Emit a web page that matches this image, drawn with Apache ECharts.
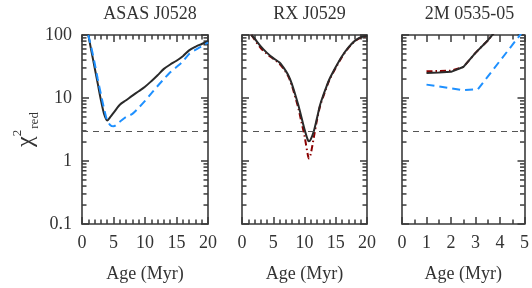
<!DOCTYPE html>
<html><head><meta charset="utf-8">
<script src="https://cdn.jsdelivr.net/npm/echarts@6/dist/echarts.min.js"></script>
<style>html,body{margin:0;padding:0;background:#fff}#c{width:532px;height:288px}</style>
</head><body><div id="c"></div>
<script>
// ---- text ----
const panelTitles = ['ASAS J0528', 'RX J0529', '2M 0535-05'];
const xTitle = 'Age (Myr)';
const yTickLabels = ['0.1', '1', '10', '100'];
const refLevel = 3;
const yMinorTicks = [0.2,0.3,0.4,0.5,0.6,0.7,0.8,0.9,2,3,4,5,6,7,8,9,20,30,40,50,60,70,80,90];

// ---- panel 1: ASAS J0528 ----
const asasAge   = [1, 1.5, 2, 2.5, 3, 3.5, 4, 4.5, 5, 6, 7, 8, 9, 10, 11, 12, 13, 14, 15, 16, 17, 18, 19, 20];
const asasBlack = [100, 55, 30.5, 16.9, 9.3, 5.6, 4.4, 5.0, 5.8, 7.8, 9.2, 10.9, 12.8, 15.1, 18.5, 23, 29, 34, 39, 46, 57, 65, 72, 80];
const asasBlue  = [100, 62, 36, 20, 11.5, 6.8, 4.4, 3.7, 3.55, 4.2, 5.0, 5.6, 7.0, 9.0, 11.8, 15.5, 20, 25.6, 31, 38, 50, 58, 66, 76];

// ---- panel 2: RX J0529 ----
const rxAge   = [1.5, 2, 3, 4, 5, 6, 7, 7.5, 8, 8.5, 9, 9.5, 10, 10.5, 10.7, 11, 11.5, 12, 12.5, 13, 13.5, 14, 15, 16, 17, 18, 19, 20];
const rxBlack = [100, 88, 66, 52, 43, 36.5, 27, 22, 16.5, 11.5, 7.8, 5.0, 3.2, 2.2, 2.05, 2.2, 3.0, 4.8, 7.8, 11, 15, 20, 31, 46, 63, 80, 92, 96];
const rxRed   = [100, 85, 62, 50, 42, 35, 26, 21, 15.5, 10.5, 7.0, 4.2, 2.5, 1.3, 1.1, 1.3, 2.4, 4.5, 7.5, 10.5, 14.5, 19.5, 30, 45, 62, 79, 91, 96];

// ---- panel 3: 2M 0535-05 ----
const tmAge     = [1, 1.5, 2, 2.5, 3, 3.5, 4];
const tmBlack   = [25, 25.3, 26, 31, 52, 82, 140];
const tmRed     = [26.5, 26.8, 27.2, 31, 52, 82, 140];
const tmBlueAge = [1, 2.5, 3.1, 4, 5];
const tmBlue    = [16.3, 13.3, 13.8, 39, 123];

// ---- layout ----
const FONT = 'Liberation Serif';
const frameColor = '#3a3a3a';
const tickColor = '#3a3a3a';
const grids = [
  {left: 82, top: 35, width: 126, height: 194},
  {left: 242, top: 35, width: 125, height: 194},
  {left: 402, top: 35, width: 125, height: 194}
];
const xMaxs = [20, 20, 5];
const xIntervals = [5, 5, 1];
const xMinorSplit = [5, 5, 2];

function pairs(xs, ys) { return xs.map((x, i) => [x, ys[i]]); }

const xAxes = [], yAxes = [];
for (let i = 0; i < 3; i++) {
  ['bottom', 'top'].forEach(pos => {
    xAxes.push({
      type: 'value', gridIndex: i, position: pos, min: 0, max: xMaxs[i], interval: xIntervals[i],
      axisLine: {show: true, onZero: false, lineStyle: {color: frameColor, width: 1.6}},
      axisTick: {show: true, inside: true, length: 7, lineStyle: {color: tickColor, width: 1.5}},
      minorTick: {show: true, splitNumber: xMinorSplit[i], length: 4.5, lineStyle: {color: tickColor, width: 1.5}},
      axisLabel: {show: pos === 'bottom', color: '#333', fontSize: 18, fontFamily: FONT, margin: 10},
      splitLine: {show: false},
      name: pos === 'bottom' ? xTitle : '', nameLocation: 'middle', nameGap: 41,
      nameTextStyle: {fontSize: 18, color: '#333', fontFamily: FONT}
    });
  });
  ['left', 'right'].forEach(pos => {
    const first = (i === 0 && pos === 'left');
    yAxes.push({
      type: 'log', logBase: 10, gridIndex: i, position: pos, min: 0.1, max: 100,
      axisLine: {show: true, onZero: false, lineStyle: {color: frameColor, width: 1.6}},
      axisTick: {show: true, inside: true, length: 7, lineStyle: {color: tickColor, width: 1.5}},
      axisLabel: {show: first, color: '#333', fontSize: 18, fontFamily: FONT, margin: 10,
        formatter: v => yTickLabels[Math.round(Math.log10(v)) + 1]},
      splitLine: {show: false},
      name: first ? '{c|χ}{s|2}{r|red}' : '', nameLocation: 'middle', nameRotate: 90, nameGap: 31,
      nameTextStyle: {
        color: '#333', fontFamily: FONT,
        rich: {
          c: {fontSize: 24, fontFamily: FONT, color: '#333', lineHeight: 30},
          s: {fontSize: 13, fontFamily: FONT, color: '#333', verticalAlign: 'top', lineHeight: 14},
          r: {fontSize: 13, fontFamily: FONT, color: '#333', verticalAlign: 'bottom', lineHeight: 12, padding: [0, 0, 0, 1]}
        }
      }
    });
  });
}

const black = '#2a2a2a', blue = '#1e90ff', red = '#8b0000';
function lineSeries(i, data, color, type, smooth, z, withRef) {
  const s = {
    type: 'line', xAxisIndex: i * 2, yAxisIndex: i * 2, data: data, showSymbol: false, symbol: 'none',
    smooth: smooth, clip: true, z: z,
    lineStyle: {color: color, width: 2, type: type}
  };
  if (withRef) {
    s.markLine = {silent: true, symbol: ['none', 'none'], label: {show: false},
      lineStyle: {type: [6, 5], color: '#555', width: 1}, data: [{yAxis: refLevel}]};
  }
  return s;
}
function minorTickSeries(i) {
  const xMax = xMaxs[i];
  return {
    type: 'custom', xAxisIndex: i * 2, yAxisIndex: i * 2,
    data: yMinorTicks.map(v => [0, v]),
    renderItem: function (params, api) {
      const v = api.value(1);
      const pl = api.coord([0, v]);
      const pr = api.coord([xMax, v]);
      return {type: 'group', children: [
        {type: 'line', shape: {x1: pl[0], y1: pl[1], x2: pl[0] + 4.5, y2: pl[1]}, style: {stroke: tickColor, lineWidth: 1.5}},
        {type: 'line', shape: {x1: pr[0], y1: pr[1], x2: pr[0] - 4.5, y2: pr[1]}, style: {stroke: tickColor, lineWidth: 1.5}}
      ]};
    }
  };
}

const series = [
  minorTickSeries(0), minorTickSeries(1), minorTickSeries(2),
  lineSeries(0, pairs(asasAge, asasBlack), black, 'solid', 0.3, 3, true),
  lineSeries(0, pairs(asasAge, asasBlue), blue, [8, 5], 0.3, 4, false),
  lineSeries(1, pairs(rxAge, rxRed), red, [6, 3, 1.5, 3], 0.3, 3, false),
  lineSeries(1, pairs(rxAge, rxBlack), black, 'solid', 0.3, 4, true),
  lineSeries(2, pairs(tmAge, tmRed), red, [6, 3, 1.5, 3], false, 3, false),
  lineSeries(2, pairs(tmAge, tmBlack), black, 'solid', false, 4, true),
  lineSeries(2, pairs(tmBlueAge, tmBlue), blue, [8, 5], false, 4, false)
];

const chart = echarts.init(document.getElementById('c'));
chart.setOption({
  animation: false,
  backgroundColor: '#fff',
  textStyle: {fontFamily: FONT},
  title: panelTitles.map((t, i) => ({
    text: t, left: grids[i].left + grids[i].width / 2, top: 0, textAlign: 'center',
    textStyle: {fontSize: 18, fontWeight: 'normal', color: '#333', fontFamily: FONT}
  })),
  grid: grids,
  xAxis: xAxes,
  yAxis: yAxes,
  series: series
});
</script></body></html>
